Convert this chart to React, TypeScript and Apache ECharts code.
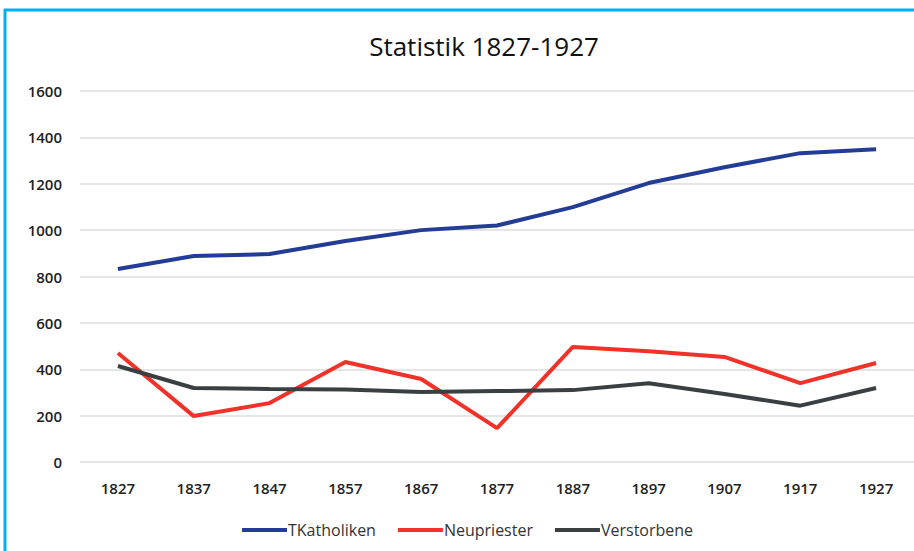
import React, { useEffect, useRef } from "react";
import * as echarts from "echarts";

const years = ["1827", "1837", "1847", "1857", "1867", "1877", "1887", "1897", "1907", "1917", "1927"];
const tkatholiken = [832, 888, 897, 953, 1000, 1020, 1099, 1203, 1271, 1332, 1349];
const neupriester = [470, 198, 254, 431, 358, 146, 496, 478, 453, 340, 427];
const verstorbene = [414, 319, 315, 313, 302, 306, 310, 340, 293, 243, 319];

const FONT = "'Open Sans', 'Noto Sans', sans-serif";

export default function App() {
  const ref = useRef<HTMLDivElement>(null);
  useEffect(() => {
    if (!ref.current) return;
    const chart = echarts.init(ref.current, null, { renderer: "svg" });
    chart.setOption({
      animation: false,
      backgroundColor: "#ffffff",
      title: {
        text: "Statistik 1827-1927",
        left: 479,
        top: 28,
        textAlign: "center",
        textStyle: { fontFamily: FONT, fontSize: 26, fontWeight: "normal", color: "#111" },
      },
      legend: {
        bottom: 8,
        left: 237,
        itemWidth: 45,
        itemHeight: 4,
        itemGap: 22,
        icon: "rect",
        textStyle: { fontFamily: FONT, fontSize: 16, color: "#333", padding: [0, 0, 0, -4] },
        data: ["TKatholiken", "Neupriester", "Verstorbene"],
      },
      grid: { left: 80, top: 91, width: 847, height: 371, containLabel: false },
      xAxis: {
        type: "category",
        data: years,
        boundaryGap: true,
        axisLine: { show: false },
        axisTick: { show: false },
        axisLabel: { fontFamily: FONT, fontSize: 15, fontWeight: 600, color: "#222", margin: 18 },
      },
      yAxis: {
        type: "value",
        min: 0,
        max: 1600,
        interval: 200,
        axisLine: { show: false },
        axisTick: { show: false },
        axisLabel: {
          fontFamily: FONT,
          fontSize: 15,
          fontWeight: 600,
          color: "#222",
          margin: 18,
          formatter: (v: number) => String(v),
        },
        splitLine: { lineStyle: { color: "#dcdcdc", width: 1.5 } },
      },
      series: [
        {
          name: "TKatholiken",
          type: "line",
          data: tkatholiken,
          showSymbol: false,
          symbol: "none",
          lineStyle: { color: "#233c96", width: 4 },
          itemStyle: { color: "#233c96" },
        },
        {
          name: "Neupriester",
          type: "line",
          data: neupriester,
          showSymbol: false,
          symbol: "none",
          lineStyle: { color: "#f03228", width: 4 },
          itemStyle: { color: "#f03228" },
        },
        {
          name: "Verstorbene",
          type: "line",
          data: verstorbene,
          showSymbol: false,
          symbol: "none",
          lineStyle: { color: "#3a3f42", width: 4 },
          itemStyle: { color: "#3a3f42" },
        },
      ],
      graphic: [
        { type: "line", shape: { x1: 4, y1: 10, x2: 914, y2: 10 }, style: { stroke: "#00b0f0", lineWidth: 3 } },
        { type: "line", shape: { x1: 5, y1: 9, x2: 5, y2: 551 }, style: { stroke: "#00b0f0", lineWidth: 3 } },
      ],
    });
    return () => chart.dispose();
  }, []);
  return <div ref={ref} style={{ width: 914, height: 551, position: "fixed", left: 0, top: 0 }} />;
}
